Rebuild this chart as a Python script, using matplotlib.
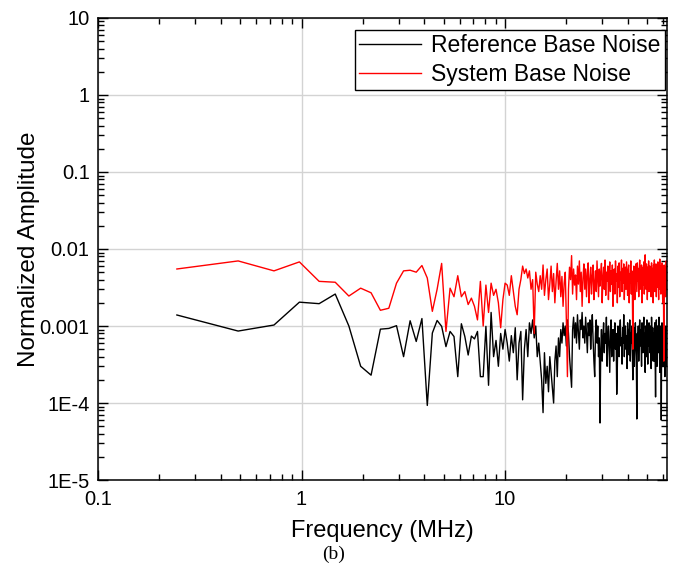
import matplotlib
matplotlib.use("Agg")
import matplotlib.pyplot as plt
from matplotlib.ticker import LogLocator, FixedLocator, NullFormatter
import numpy as np

plt.rcParams['font.family'] = ['Liberation Sans', 'DejaVu Sans']

# FFT bins: 256 bins up to 62.5 MHz
freq_mhz = np.arange(1, 257) * 62.5 / 256

# amplitudes, in units of 1e-4
ref_noise_e4 = [
    13.9, 8.6, 10.3, 20.4, 19.5, 26, 10, 3.0, 2.3, 9.1,
    9.3, 10.1, 4.0, 11.7, 6.3, 12.5, 0.93, 8.1, 11.8, 9.9,
    5.4, 8.5, 7.3, 2.2, 10.7, 7.3, 4.2, 7.4, 6.8, 8.5,
    2.2, 2.2, 9.9, 1.7, 15, 4, 6.5, 3, 8, 5,
    9, 6, 3.5, 7.5, 4.5, 9.5, 2, 6, 8.5, 1.1,
    5, 9, 4, 11, 8, 12, 7, 10, 4, 6,
    3.5, 2.0, 0.75, 4.5, 1.8, 3.0, 1.4, 4.0, 2.5, 1.6,
    1.0, 3.5, 5.5, 2.2, 7, 4, 9, 6, 11, 7.5,
    10, 5.5, 12, 8, 4, 2.5, 1.6, 9, 13, 7,
    11, 6, 14, 8.5, 5, 12, 9, 15, 7, 10,
    6, 13, 8, 4.5, 11, 7.5, 12, 5, 9, 14,
    6.5, 3.5, 2.2, 8, 12, 6, 10, 4, 7, 0.55,
    5, 9, 3.5, 7, 11, 4.5, 8, 6, 13, 3,
    7, 10, 5, 2.5, 8.5, 12, 4, 6.5, 9, 3.5,
    7.5, 11, 5, 8, 1.3, 3, 10, 6, 4, 9,
    12, 5.5, 7, 3.2, 9.5, 6, 14, 4, 8, 10,
    5, 7.5, 2.8, 11, 6.5, 9, 4.2, 12, 3.5, 8,
    6, 10, 4.5, 2, 7, 9.5, 3, 5.5, 11, 6,
    4, 0.62, 8, 5, 10, 3.5, 7, 12, 5.5, 9,
    6.5, 3, 11, 7.5, 4.5, 9, 13, 5, 8, 2.5,
    10, 6, 4, 12, 7, 3.2, 9, 5.5, 11, 8,
    4.5, 10, 6.5, 2.8, 13, 7, 5, 9.5, 3.5, 8,
    6, 3.5, 11, 4, 1.2, 7.5, 12, 5, 3, 10,
    7, 4.5, 9, 13, 6, 2.5, 8, 5, 10, 0.6,
    7, 11, 4, 8.5, 3, 6, 12, 5, 9, 2.2,
    7, 4, 10, 6, 3, 8,
]

sys_noise_e4 = [
    55, 70, 52, 68, 38, 37, 24.5, 31, 27, 16,
    17, 36, 52, 53, 50, 61, 42, 15.5, 30, 65,
    8.5, 31, 24, 45, 24, 28, 19, 23, 18, 12,
    38, 10, 34, 15, 36, 25, 30, 20, 9.5, 22,
    36, 34, 25, 45, 28, 18, 14, 30, 40, 60,
    48, 55, 42, 52, 30, 40, 8, 50, 35, 28,
    45, 30, 62, 25, 40, 55, 22, 35, 60, 28,
    48, 20, 38, 65, 30, 52, 24, 44, 18, 36,
    50, 12, 2.2, 30, 58, 40, 82, 26, 55, 34,
    46, 22, 60, 35, 70, 28, 50, 18, 42, 64,
    30, 55, 24, 48, 66, 20, 40, 58, 26, 45,
    62, 22, 36, 52, 28, 70, 40, 24, 55, 33,
    48, 65, 20, 42, 58, 30, 72, 25, 50, 38,
    60, 22, 45, 68, 28, 52, 35, 62, 18, 44,
    55, 26, 70, 38, 48, 20, 60, 32, 66, 24,
    50, 40, 72, 28, 56, 36, 64, 22, 46, 58,
    30, 68, 42, 25, 54, 62, 20, 48, 36, 70,
    26, 52, 30, 5, 40, 60, 34, 22, 50, 64,
    44, 28, 66, 38, 56, 24, 48, 72, 30, 54,
    40, 62, 20, 46, 58, 34, 68, 26, 52, 84,
    44, 30, 64, 50, 22, 58, 38, 70, 28, 48,
    60, 34, 54, 24, 66, 42, 30, 56, 20, 62,
    46, 72, 28, 52, 38, 64, 24, 50, 58, 32,
    68, 40, 22, 56, 46, 74, 30, 52, 26, 60,
    42, 66, 34, 20, 54, 38, 3.5, 62, 28, 48,
    58, 24, 44, 70, 30, 50,
]

ref_noise = np.array(ref_noise_e4) * 1e-4
sys_noise = np.array(sys_noise_e4) * 1e-4

y_ticks = [1e-5, 1e-4, 1e-3, 1e-2, 0.1, 1, 10]
y_tick_labels = ["1E-5", "1E-4", "0.001", "0.01", "0.1", "1", "10"]
x_ticks = [0.1, 1, 10]
x_tick_labels = ["0.1", "1", "10"]

fig = plt.figure(figsize=(6.81, 5.67), dpi=100)
ax = fig.add_axes([0.1439, 0.1534, 0.8355, 0.8149])

ax.plot(freq_mhz, ref_noise, color="black", lw=1.0, label="Reference Base Noise")
ax.plot(freq_mhz, sys_noise, color="red", lw=1.0, label="System Base Noise")

ax.set_xscale("log")
ax.set_yscale("log")
ax.set_xlim(0.1, 62.5)
ax.set_ylim(1e-5, 10)

ax.xaxis.set_major_locator(FixedLocator(x_ticks))
ax.set_xticklabels(x_tick_labels)
ax.yaxis.set_major_locator(FixedLocator(y_ticks))
ax.set_yticklabels(y_tick_labels)
ax.xaxis.set_minor_locator(LogLocator(base=10, subs=np.arange(2, 10), numticks=20))
ax.yaxis.set_minor_locator(LogLocator(base=10, subs=np.arange(2, 10), numticks=20))
ax.xaxis.set_minor_formatter(NullFormatter())
ax.yaxis.set_minor_formatter(NullFormatter())

ax.tick_params(which="both", direction="in", top=True, right=True, labelsize=14.5, width=1.0)
ax.tick_params(which="major", length=7)
ax.tick_params(which="minor", length=4)
ax.tick_params(axis="x", which="major", pad=7)
ax.tick_params(axis="y", which="major", pad=6)
for sp in ax.spines.values():
    sp.set_linewidth(1.1)

ax.grid(True, which="major", color="#d3d3d3", lw=1.0)
ax.set_axisbelow(True)

ax.set_xlabel("Frequency (MHz)", fontsize=17, labelpad=8)
ax.set_ylabel("Normalized Amplitude", fontsize=17.5, labelpad=0)

leg = ax.legend(loc="upper right", bbox_to_anchor=(0.997, 0.975), fontsize=16.5,
                frameon=True, fancybox=False, edgecolor="black", framealpha=1,
                handlelength=2.7, handletextpad=0.45, borderpad=0.2, labelspacing=0.25,
                borderaxespad=0)
leg.get_frame().set_linewidth(1.0)

fig.text(0.49, 0.022, "(b)", family=["Liberation Serif", "DejaVu Serif"], fontsize=14,
         ha="center", va="center")

fig.savefig("out.png", dpi=100)
